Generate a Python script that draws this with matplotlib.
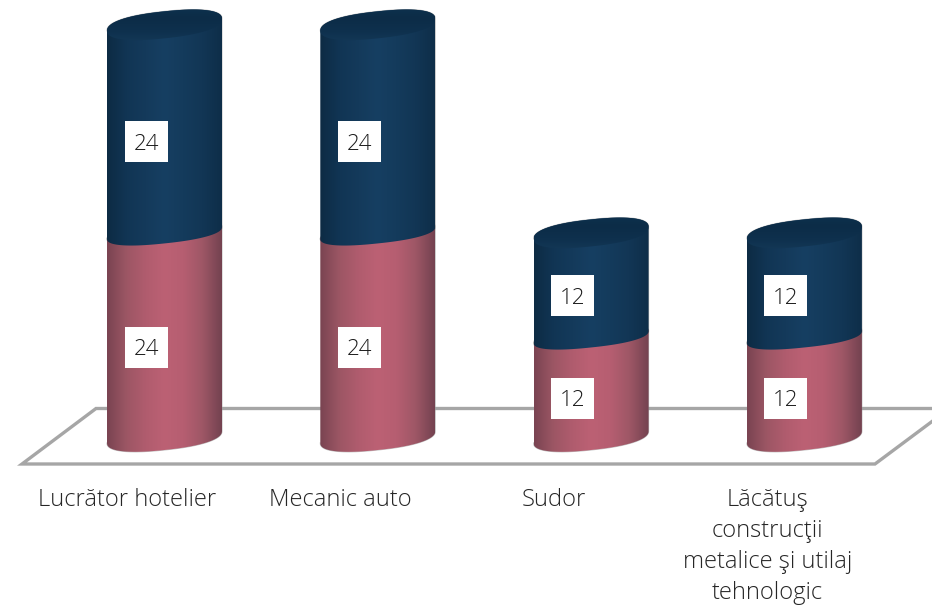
import matplotlib
matplotlib.use("Agg")
import matplotlib.pyplot as plt
import numpy as np
from matplotlib.colors import LinearSegmentedColormap
from matplotlib.patches import Polygon, Rectangle

categorii = ["Lucrător hotelier", "Mecanic auto", "Sudor",
             "Lăcătuş\nconstrucţii\nmetalice şi utilaj\ntehnologic"]
serie_jos = [24, 24, 12, 12]
serie_sus = [24, 24, 12, 12]

# scale: 213.3 px per category, 8.67 px per unit, zero at pixel (164.5, 441)
W, H = 932, 606
PX_X, PX_Y = 213.3, 8.67
X0, Y0 = 164.5, 441

def dx(px):
    return (px - X0) / PX_X

def dy(py):
    return (Y0 - py) / PX_Y

A = 57.5 / PX_X     # half width of a cylinder
B_VARF = 13.5 / PX_Y  # ellipse height on top
B_MIJLOC = 10.5 / PX_Y  # where the two series meet
B_BAZA = 13 / PX_Y
S = 6 / PX_Y        # ellipse tilt
BAZA = 4 / PX_Y     # cylinders stand a bit above zero

# hand placed value labels (pixel rows), by value
rand_sus = {24: 141.5, 12: 295.5}
rand_jos = {24: 347, 12: 398}

roz = LinearSegmentedColormap.from_list("roz", ["#7a4452", "#9c5664", "#b05c6e", "#bc6174",
                                                "#b65e71", "#9e5766", "#744250"])
navy = LinearSegmentedColormap.from_list("navy", ["#0d2b44", "#113554", "#143a5b", "#163f62",
                                                  "#143b5c", "#123655", "#0e2e49"])
capac = LinearSegmentedColormap.from_list("capac", ["#0e3350", "#0c2c47", "#0e304d", "#143958"])

plt.rcParams["font.family"] = ["Open Sans", "DejaVu Sans"]
fig = plt.figure(figsize=(W / 100, H / 100), dpi=100)
ax = fig.add_axes([0, 0, 1, 1])
ax.axis("off")

def arc(cx, cy, b, t0, t1):
    t = np.linspace(t0, t1, 80)
    c = np.sign(np.cos(t)) * np.abs(np.cos(t)) ** 0.85
    s = np.sign(np.sin(t)) * np.abs(np.sin(t)) ** 0.85
    return np.column_stack([cx + A * c, cy + S * c + b * s])

def segment(cx, jos, sus, b_jos, b_sus, cmap):
    # front arc of the lower end, back arc of the upper end
    pts = np.vstack([arc(cx, jos, b_jos, np.pi, 2 * np.pi), arc(cx, sus, b_sus, 0, np.pi)])
    img = ax.imshow(np.linspace(0, 1, 200).reshape(1, -1), cmap=cmap, aspect="auto", zorder=3,
                    extent=(cx - A, cx + A, jos - 3, sus + 3), interpolation="bilinear")
    img.set_clip_path(Polygon(pts, transform=ax.transData))
    ax.plot(pts[:, 0], pts[:, 1], color="#9a9a9a", lw=0.8, alpha=0.6, zorder=2.9)

def eticheta(x, py, valoare):
    ax.add_patch(Rectangle((x - 21.5 / PX_X, dy(py + 20.5)), 43 / PX_X, 41 / PX_Y,
                           fc="white", ec="none", zorder=5))
    ax.text(x, dy(py), str(valoare), ha="center", va="center_baseline", fontsize=16,
            color="#1c1c1c", fontweight="light", zorder=6)

# floor
ax.plot([dx(W + 2), dx(96), dx(22), dx(875), dx(W + 2)],
        [dy(408.5), dy(408.5), dy(464), dy(464), dy(420)],
        color="#a6a6a6", lw=2.4, solid_joinstyle="miter", zorder=1)

for i, (v1, v2) in enumerate(zip(serie_jos, serie_sus)):
    varf = v1 + v2
    segment(i, BAZA, v1, B_BAZA, B_MIJLOC, roz)
    segment(i, v1, varf, B_MIJLOC, B_VARF, navy)
    # top of the cylinder
    cap = ax.imshow(np.linspace(0, 1, 100).reshape(-1, 1), cmap=capac, aspect="auto", zorder=4,
                    extent=(i - A, i + A, varf - B_VARF - S, varf + B_VARF + S),
                    interpolation="bilinear")
    cap.set_clip_path(Polygon(arc(i, varf, B_VARF, 0, 2 * np.pi), transform=ax.transData))

    x_et = i - 18.5 / PX_X
    eticheta(x_et, rand_jos[v1], v1)
    eticheta(x_et, rand_sus[v2], v2)

    # category labels
    ax.text(i - 37 / PX_X, dy(487.5), categorii[i], ha="center", va="top", fontsize=17.1,
            color="#262626", fontweight="light", linespacing=1.39, zorder=5)

ax.set_xlim(dx(0), dx(W))
ax.set_ylim(dy(H), dy(0))
fig.savefig("out.png", dpi=100)
